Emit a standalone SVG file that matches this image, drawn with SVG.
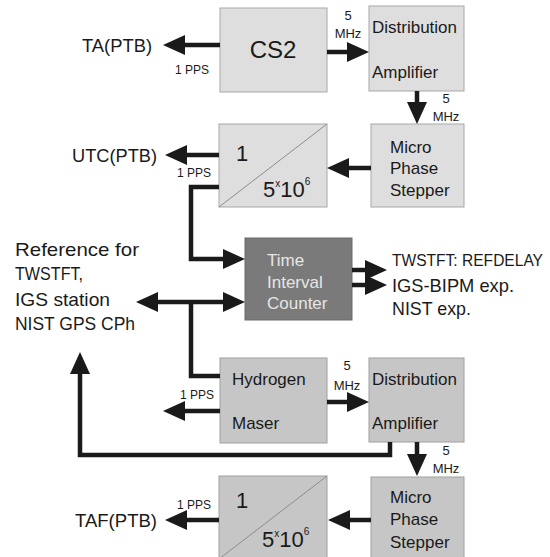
<svg xmlns="http://www.w3.org/2000/svg" width="550" height="557" viewBox="0 0 550 557">
<defs>
<style>
text{font-family:"Liberation Sans",Arial,sans-serif;fill:#1a1a1a}
.lt{fill:#dedede;stroke:#a8a8a8;stroke-width:1}
.dk{fill:#c6c6c6;stroke:#a0a0a0;stroke-width:1}
.ct{fill:#7a7a7a;stroke:#6a6a6a;stroke-width:1}
.box{font-size:17px}
.lbl{font-size:19px}
.sm{font-size:12px}
.mhz{font-size:13px;text-anchor:middle}
.w{fill:#e6e6e6}
.diag{stroke:#8c8c8c;stroke-width:1;fill:none}
#connectors path{fill:none;stroke:#1a1a1a;stroke-width:4.5;stroke-linejoin:miter}
.a{marker-end:url(#ah)}
</style>
<marker id="ah" markerUnits="userSpaceOnUse" markerWidth="22" markerHeight="20" refX="2" refY="10" orient="auto-start-reverse" viewBox="0 0 22 20">
<path d="M0,0 L22,10 L0,20 z" fill="#1a1a1a"/>
</marker>
</defs>
<rect width="550" height="557" fill="#ffffff"/>

<g id="cs2">
<rect class="lt" x="220" y="8" width="107" height="84"/>
<text x="273" y="58" font-size="24" text-anchor="middle">CS2</text>
</g>
<g id="dist-amp-top">
<rect class="lt" x="369" y="6" width="95" height="85"/>
<text class="box" x="372" y="33">Distribution</text>
<text class="box" x="372" y="78">Amplifier</text>
</g>
<g id="mps-top">
<rect class="lt" x="371" y="124" width="93" height="83"/>
<text class="box" x="390" y="153">Micro</text>
<text class="box" x="390" y="174">Phase</text>
<text class="box" x="390" y="196">Stepper</text>
</g>
<g id="div-top">
<rect class="lt" x="219" y="124" width="108" height="83"/>
<path class="diag" d="M219,207 L327,124"/>
<text x="242" y="161" font-size="22" text-anchor="middle">1</text>
<text x="263" y="197" font-size="22">5<tspan font-size="10" dy="-10">x</tspan><tspan dy="10">10</tspan><tspan font-size="10" dy="-12">6</tspan></text>
</g>
<g id="counter">
<rect class="ct" x="245" y="238" width="107" height="82"/>
<text class="box w" x="267" y="266" font-size="18">Time</text>
<text class="box w" x="267" y="288" font-size="18">Interval</text>
<text class="box w" x="267" y="309" font-size="18">Counter</text>
</g>
<g id="maser">
<rect class="dk" x="220" y="358" width="107" height="85"/>
<text class="box" x="232" y="385" font-size="18">Hydrogen</text>
<text class="box" x="232" y="429" font-size="18">Maser</text>
</g>
<g id="dist-amp-bottom">
<rect class="dk" x="369" y="358" width="95" height="84"/>
<text class="box" x="372" y="385">Distribution</text>
<text class="box" x="372" y="429">Amplifier</text>
</g>
<g id="mps-bottom">
<rect class="dk" x="371" y="477" width="93" height="83"/>
<text class="box" x="390" y="503">Micro</text>
<text class="box" x="390" y="525">Phase</text>
<text class="box" x="390" y="548">Stepper</text>
</g>
<g id="div-bottom">
<rect class="dk" x="219" y="476" width="108" height="83"/>
<path class="diag" d="M219,559 L327,476"/>
<text x="242" y="508" font-size="22" text-anchor="middle">1</text>
<text x="262" y="547" font-size="22">5<tspan font-size="10" dy="-10">x</tspan><tspan dy="10">10</tspan><tspan font-size="10" dy="-12">6</tspan></text>
</g>

<g id="labels">
<text class="lbl" x="82" y="52" textLength="70" lengthAdjust="spacingAndGlyphs">TA(PTB)</text>
<text class="lbl" x="72" y="162" textLength="85" lengthAdjust="spacingAndGlyphs">UTC(PTB)</text>
<text class="lbl" x="75" y="527" textLength="82" lengthAdjust="spacingAndGlyphs">TAF(PTB)</text>
<text class="sm" x="175" y="74">1 PPS</text>
<text class="sm" x="177" y="177">1 PPS</text>
<text class="sm" x="180" y="399">1 PPS</text>
<text class="sm" x="177" y="509">1 PPS</text>
<text class="mhz" x="348" y="20">5</text>
<text class="mhz" x="348" y="38">MHz</text>
<text class="mhz" x="446" y="103">5</text>
<text class="mhz" x="446" y="121">MHz</text>
<text class="mhz" x="347" y="370">5</text>
<text class="mhz" x="347" y="390">MHz</text>
<text class="mhz" x="446" y="455">5</text>
<text class="mhz" x="446" y="473">MHz</text>
<text class="lbl" x="15" y="256" textLength="124" lengthAdjust="spacingAndGlyphs">Reference for</text>
<text class="lbl" x="15" y="280" textLength="68" lengthAdjust="spacingAndGlyphs">TWSTFT,</text>
<text class="lbl" x="15" y="306" textLength="95" lengthAdjust="spacingAndGlyphs">IGS station</text>
<text class="lbl" x="15" y="330" textLength="120" lengthAdjust="spacingAndGlyphs">NIST GPS CPh</text>
<text x="392" y="266" font-size="16" textLength="151" lengthAdjust="spacingAndGlyphs">TWSTFT: REFDELAY</text>
<text class="lbl" x="392" y="292" textLength="122" lengthAdjust="spacingAndGlyphs">IGS-BIPM exp.</text>
<text class="lbl" x="392" y="315" textLength="79" lengthAdjust="spacingAndGlyphs">NIST exp.</text>
</g>

<g id="connectors">
<path class="a" d="M220,45 H183"/>
<path class="a" d="M327,52 H349"/>
<path class="a" d="M417,91 V104"/>
<path class="a" d="M371,168 H347"/>
<path class="a" d="M219,155 H185"/>
<path class="a" d="M219,187 H191 V259 H225"/>
<path class="a" d="M156,302 H225" marker-start="url(#ah)"/>
<path d="M191,302 V376 H220"/>
<path class="a" d="M220,411 H183"/>
<path class="a" d="M327,402 H349"/>
<path class="a" d="M417,442 V456"/>
<path class="a" d="M390,442 V455 H80 V372"/>
<path class="a" d="M371,520 H348"/>
<path class="a" d="M219,520 H185"/>
<path class="a" d="M352,270 H367"/>
<path class="a" d="M352,285 H367"/>
</g>
</svg>
